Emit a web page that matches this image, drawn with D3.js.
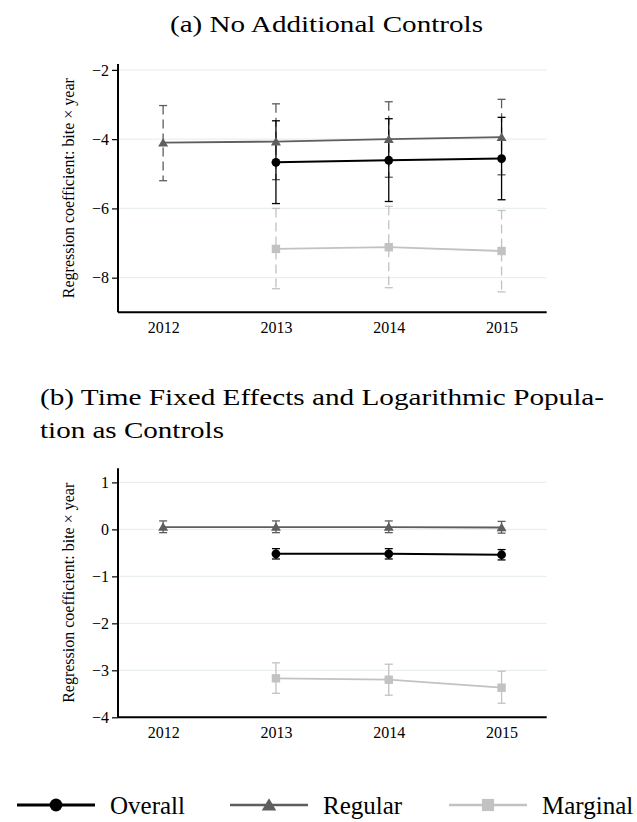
<!DOCTYPE html>
<html>
<head>
<meta charset="utf-8">
<script src="https://cdn.jsdelivr.net/npm/d3@7"></script>
<style>
  body { margin: 0; background: #fff; }
  text { font-family: "Liberation Serif", "Times New Roman", serif; fill: #000; }
</style>
</head>
<body>
<div class="chart"></div>
<script>
// ============================================================================
// Data
// ============================================================================

var years = [2012, 2013, 2014, 2015];

// (a) No additional controls
var overallA    = [null, -4.67, -4.61, -4.56];
var overallLoA  = [null, -5.86, -5.80, -5.75];
var overallHiA  = [null, -3.47, -3.41, -3.37];
var regularA    = [-4.10, -4.07, -4.00, -3.94];
var regularLoA  = [-5.20, -5.17, -5.10, -5.03];
var regularHiA  = [-3.03, -2.98, -2.92, -2.85];
var marginalA   = [null, -7.17, -7.12, -7.23];
var marginalLoA = [null, -8.32, -8.29, -8.41];
var marginalHiA = [null, -6.00, -5.94, -6.06];
var ticksA = [-8, -6, -4, -2];

// (b) Time fixed effects and log population
var overallB    = [null, -0.52, -0.52, -0.54];
var overallLoB  = [null, -0.63, -0.63, -0.65];
var overallHiB  = [null, -0.41, -0.41, -0.43];
var regularB    = [0.05, 0.05, 0.05, 0.04];
var regularLoB  = [-0.07, -0.07, -0.07, -0.08];
var regularHiB  = [0.18, 0.18, 0.18, 0.17];
var marginalB   = [null, -3.17, -3.20, -3.37];
var marginalLoB = [null, -3.49, -3.53, -3.70];
var marginalHiB = [null, -2.84, -2.87, -3.02];
var ticksB = [-4, -3, -2, -1, 0, 1];

var seriesNames = ['Overall', 'Regular', 'Marginal'];

// ============================================================================
// Create SVG
// ============================================================================

var svg = d3.select('.chart')
  .append('svg')
  .attr('width', 637)
  .attr('height', 822);

var colors = { Overall: '#000000', Regular: '#5e5e5e', Marginal: '#c2c2c2' };

var x = d3.scaleLinear()
  .domain([2011.6, 2015.4])
  .range([118, 546.7]);

// titles
svg.append('text')
  .attr('x', 326.5)
  .attr('y', 32)
  .attr('text-anchor', 'middle')
  .attr('textLength', 313)
  .attr('lengthAdjust', 'spacingAndGlyphs')
  .style('font-size', '24px')
  .text('(a) No Additional Controls');

svg.append('text')
  .attr('x', 40)
  .attr('y', 405)
  .attr('textLength', 564)
  .attr('lengthAdjust', 'spacingAndGlyphs')
  .style('font-size', '24px')
  .text('(b) Time Fixed Effects and Logarithmic Popula-');

svg.append('text')
  .attr('x', 40)
  .attr('y', 438)
  .attr('textLength', 184)
  .attr('lengthAdjust', 'spacingAndGlyphs')
  .style('font-size', '24px')
  .text('tion as Controls');

// ============================================================================
// Panels
// ============================================================================

drawPanel({
  yDomain: [-9, -1.83], yRange: [312.3, 64], ticks: ticksA, dashed: true,
  series: [
    { name: 'Regular', est: regularA, lo: regularLoA, hi: regularHiA },
    { name: 'Marginal', est: marginalA, lo: marginalLoA, hi: marginalHiA },
    { name: 'Overall', est: overallA, lo: overallLoA, hi: overallHiA }
  ]
});

drawPanel({
  yDomain: [-4, 1.3], yRange: [717.3, 468.3], ticks: ticksB, dashed: false,
  series: [
    { name: 'Regular', est: regularB, lo: regularLoB, hi: regularHiB },
    { name: 'Marginal', est: marginalB, lo: marginalLoB, hi: marginalHiB },
    { name: 'Overall', est: overallB, lo: overallLoB, hi: overallHiB }
  ]
});

// ============================================================================
// Legend
// ============================================================================

var legendX = [17, 230, 449];
var legend = svg.append('g').attr('transform', 'translate(0, 805)');

seriesNames.forEach(function(name, i) {
  var g = legend.append('g').attr('transform', `translate(${legendX[i]}, 0)`);
  g.append('line')
    .attr('x1', 0).attr('x2', 78)
    .attr('stroke', colors[name])
    .attr('stroke-width', name === 'Overall' ? 3 : 2.5);
  drawMarker(g, name, 39, 0, 1.45);
  g.append('text')
    .attr('x', 93)
    .attr('y', 9)
    .style('font-size', '25px')
    .text(name);
});

// ============================================================================
// Helper Functions
// ============================================================================

function drawMarker(g, name, cx, cy, k) {
  if (name === 'Overall') {
    g.append('circle')
      .attr('cx', cx).attr('cy', cy).attr('r', 4.4 * k)
      .attr('fill', colors[name]);
  } else if (name === 'Regular') {
    var w = 5 * k, h = 8.5 * k;
    g.append('path')
      .attr('d', `M${cx - w},${cy + h * 0.45} L${cx + w},${cy + h * 0.45} L${cx},${cy - h * 0.55} Z`)
      .attr('fill', colors[name]);
  } else {
    var s = 4.2 * k;
    g.append('rect')
      .attr('x', cx - s).attr('y', cy - s)
      .attr('width', 2 * s).attr('height', 2 * s)
      .attr('fill', colors[name]);
  }
}

function drawPanel(cfg) {
  var y = d3.scaleLinear().domain(cfg.yDomain).range(cfg.yRange);
  var g = svg.append('g');

  // gridlines
  g.selectAll('.grid')
    .data(cfg.ticks)
    .enter()
      .append('line')
      .attr('x1', x.range()[0]).attr('x2', x.range()[1])
      .attr('y1', d => y(d)).attr('y2', d => y(d))
      .attr('stroke', '#e9eff1')
      .attr('stroke-width', 1.2);

  // y axis
  var yAxis = g.append('g')
    .attr('transform', `translate(${x.range()[0]}, 0)`)
    .call(d3.axisLeft(y).tickValues(cfg.ticks).tickFormat(d3.format('d')).tickSize(6).tickPadding(3));
  yAxis.select('.domain')
    .attr('d', `M0,${cfg.yRange[0]}V${cfg.yRange[1]}`)
    .attr('stroke-width', 2);
  yAxis.selectAll('.tick line').attr('stroke-width', 1.2);
  yAxis.selectAll('.tick text')
    .style('font-size', '16px');

  // x axis
  var xAxis = g.append('g')
    .attr('transform', `translate(0, ${cfg.yRange[0]})`)
    .call(d3.axisBottom(x).tickValues(years).tickFormat(d3.format('d')).tickSize(0).tickPadding(9));
  xAxis.select('.domain')
    .attr('d', `M${x.range()[0]},0H${x.range()[1]}`)
    .attr('stroke-width', 2);
  xAxis.selectAll('.tick text')
    .style('font-size', '16px');

  // y axis title
  g.append('text')
    .attr('transform', 'rotate(-90)')
    .attr('x', -(cfg.yRange[0] + cfg.yRange[1]) / 2)
    .attr('y', 74)
    .attr('text-anchor', 'middle')
    .attr('textLength', 220)
    .attr('lengthAdjust', 'spacingAndGlyphs')
    .style('font-size', '16px')
    .text('Regression coefficient: bite \u00d7 year');

  // confidence intervals
  cfg.series.forEach(function(s) {
    var pts = years.map((yr, i) => ({ yr: yr, lo: s.lo[i], hi: s.hi[i] }))
      .filter(d => d.lo !== null);
    var dash = (cfg.dashed && s.name !== 'Overall') ? '9,5' : null;
    var eg = g.append('g')
      .attr('stroke', colors[s.name])
      .attr('stroke-width', 1.3)
      .attr('fill', 'none');
    eg.selectAll('.ci')
      .data(pts)
      .enter()
        .append('line')
        .attr('x1', d => x(d.yr)).attr('x2', d => x(d.yr))
        .attr('y1', d => y(d.hi)).attr('y2', d => y(d.lo))
        .attr('stroke-dasharray', dash);
    ['lo', 'hi'].forEach(function(k) {
      eg.selectAll('.cap-' + k)
        .data(pts)
        .enter()
          .append('line')
          .attr('x1', d => x(d.yr) - 4).attr('x2', d => x(d.yr) + 4)
          .attr('y1', d => y(d[k])).attr('y2', d => y(d[k]));
    });
  });

  // lines and markers
  cfg.series.forEach(function(s) {
    var pts = years.map((yr, i) => ({ yr: yr, v: s.est[i] }))
      .filter(d => d.v !== null);
    var line = d3.line().x(d => x(d.yr)).y(d => y(d.v));
    g.append('path')
      .datum(pts)
      .attr('d', line)
      .attr('fill', 'none')
      .attr('stroke', colors[s.name])
      .attr('stroke-width', s.name === 'Overall' ? 2 : 1.8);
    pts.forEach(function(d) {
      drawMarker(g, s.name, x(d.yr), y(d.v), 1);
    });
  });
}
</script>
</body>
</html>
